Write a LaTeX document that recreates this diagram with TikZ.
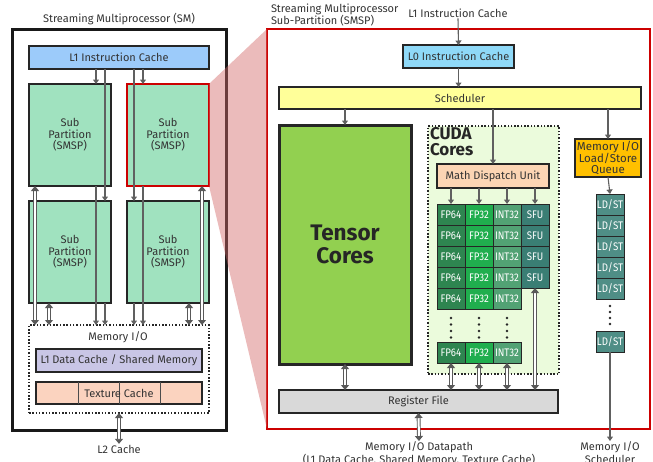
\documentclass[tikz,border=0pt]{standalone}
\usepackage{fontspec}
\setmainfont{Fira Sans}
\newfontfamily\cellfont[FakeStretch=0.88]{Fira Sans}
\usetikzlibrary{arrows.meta,calc}
\definecolor{cLone}{HTML}{9CCBFA}
\definecolor{cLzero}{HTML}{8FD9F8}
\definecolor{cSP}{HTML}{A0E2BF}
\definecolor{cLD}{HTML}{C9C6E6}
\definecolor{cTex}{HTML}{FBD3BF}
\definecolor{cSched}{HTML}{FFFF99}
\definecolor{cTensor}{HTML}{92D050}
\definecolor{cCuda}{HTML}{EBFBDC}
\definecolor{cMDU}{HTML}{FCD5B4}
\definecolor{cFPsf}{HTML}{2E8550}
\definecolor{cFPtt}{HTML}{20AE4E}
\definecolor{cINT}{HTML}{52A274}
\definecolor{cSFU}{HTML}{3A7E74}
\definecolor{cRF}{HTML}{D9D9D9}
\definecolor{cMemQ}{HTML}{FFC000}
\definecolor{cLDST}{HTML}{4F8E86}
\definecolor{cRed}{HTML}{CC0000}
\definecolor{cPink}{HTML}{D36868}
\definecolor{cTxt}{HTML}{333333}
\definecolor{cArr}{HTML}{606060}
\begin{document}
\begin{tikzpicture}[x=1pt,y=-1pt,
  bx/.style={draw=black!85, line width=1.2pt, inner sep=0pt, outer sep=0pt, anchor=north west,
    font=\fontsize{11}{11.5}\selectfont, text=cTxt, align=center},
  sz/.style 2 args={minimum width=#1pt, minimum height=#2pt},
  lbl/.style={inner sep=1pt, outer sep=0pt, font=\fontsize{11}{12.5}\selectfont, text=cTxt, align=center},
  cell/.style={draw=black!85, line width=1pt, inner sep=0pt, outer sep=0pt, anchor=north west,
    minimum width=28pt, minimum height=21pt, text=white, font=\cellfont\fontsize{11}{11}\selectfont},
  arr/.style={draw=cArr, line width=1.1pt, -{Triangle[length=4.5pt,width=6pt]}},
  darr/.style={draw=black!65, line width=0.9pt, double=white, double distance=2pt,
    {Triangle[length=5pt,width=8pt]}-{Triangle[length=5pt,width=8pt]}},
  dotbox/.style={draw=black!85, line width=1.1pt, dash pattern=on 1.5pt off 1.8pt, inner sep=0pt, outer sep=0pt, anchor=north west}
]
\useasboundingbox (0,0) rectangle (653,461);

% ---------------- SM -----------------
\node[lbl] (smtitle) at (119,19) {Streaming Multiprocessor (SM)};
\node[bx, draw=black!90, line width=3pt, sz={214}{401}] (sm) at (12,29) {};
\node[bx, fill=cLone, sz={180}{23}] (l1ic) at (29,46) {L1 Instruction Cache};
\node[bx, fill=cSP, sz={82}{102}] (sp1) at (29,84) {Sub\\Partition\\(SMSP)};
\node[bx, fill=cSP, draw=cRed, sz={82}{102}] (sp2) at (127,84) {Sub\\Partition\\(SMSP)};
\node[bx, fill=cSP, sz={82}{102}] (sp3) at (29,201) {Sub\\Partition\\(SMSP)};
\node[bx, fill=cSP, sz={82}{102}] (sp4) at (127,201) {Sub\\Partition\\(SMSP)};
\node[dotbox, sz={180}{88}] (memio) at (29,325) {};
\node[lbl] (memlbl) at (118,337) {Memory I/O};
\node[bx, fill=cLD, sz={166}{23}] (l1d) at (36,349) {L1 Data Cache / Shared Memory};
\node[bx, fill=cTex, sz={166}{22}] (tex) at (36,382) {};
\foreach \dx in {42,83,124}
  \draw[black!70, line width=0.8pt] ($(tex.north west)+(\dx,0)$) -- ($(tex.south west)+(\dx,0)$);
\node[lbl] (texlbl) at (tex.center) {Texture Cache};
\node[lbl] (l2) at (119,449) {L2 Cache};

% SM connectors
\draw[arr] (l1ic.south -| 96,0) -- (sp1.north -| 96,0);
\draw[arr] (l1ic.south -| 143,0) -- (sp2.north -| 143,0);
\draw[arr] (l1ic.south -| 105,0) -- (sp3.north -| 105,0);
\draw[arr] (l1ic.south -| 134,0) -- (sp4.north -| 134,0);
\draw[arr] (sp1.south -| 96,0) -- (memio.north -| 96,0);
\draw[arr] (sp2.south -| 143,0) -- (memio.north -| 143,0);
\draw[arr] (sp3.south -| 105,0) -- (memio.north -| 105,0);
\draw[arr] (sp4.south -| 134,0) -- (memio.north -| 134,0);
\draw[darr] (sp1.south -| 35,0) -- (memio.north -| 35,0);
\draw[darr] (sp3.south -| 49,0) -- (memio.north -| 49,0);
\draw[darr] (sp2.south -| 202,0) -- (memio.north -| 202,0);
\draw[darr] (sp4.south -| 189,0) -- (memio.north -| 189,0);
\draw[darr] (memio.south) -- (l2.north);

% ---------------- SMSP -----------------
\node[bx, draw=cRed, line width=1.5pt, sz={383}{400}] (smsp) at (267,29) {};
\fill[cPink, opacity=0.45] (sp2.north east) -- (smsp.north west) -- (smsp.south west) -- (sp2.south east) -- cycle;
\node[lbl, anchor=west, align=left, font=\fontsize{11}{11}\selectfont] (smsptitle) at (270,15) {Streaming Multiprocessor\\Sub-Partition (SMSP)};
\node[lbl] (l1lbl) at (458,13) {L1 Instruction Cache};
\node[bx, fill=cLzero, sz={111}{23}] (l0) at (403,45) {L0 Instruction Cache};
\node[bx, fill=cSched, sz={362}{22}] (sched) at (279,87) {Scheduler};
\node[bx, fill=cTensor, line width=3pt, sz={132}{239}, font=\fontsize{22.5}{23}\bfseries\selectfont, text=black!85] (tensor) at (279,125) {Tensor\\Cores};
\node[dotbox, fill=cCuda, sz={131}{248}] (cuda) at (428,126) {};
\node[lbl, anchor=north west, align=left, inner sep=0pt, font=\fontsize{17}{16.5}\bfseries\selectfont, text=black!85] (cudalbl) at (430,127) {CUDA\\Cores};
\node[bx, fill=cMDU, sz={112}{24}] (mdu) at (437,164) {Math Dispatch Unit};
\foreach \r in {0,...,4} {
  \node[cell, fill=cFPsf] (fpa\r) at (437,204+21*\r) {FP64};
  \node[cell, fill=cFPtt] (fpb\r) at (465,204+21*\r) {FP32};
  \node[cell, fill=cINT] (int\r) at (493,204+21*\r) {INT32};
}
\foreach \r in {0,...,3}
  \node[cell, fill=cSFU] (sfu\r) at (521,204+21*\r) {SFU};
\node[cell, fill=cFPsf] (fpaL) at (437,342) {FP64};
\node[cell, fill=cFPtt] (fpbL) at (465,342) {FP32};
\node[cell, fill=cINT] (intL) at (493,342) {INT32};
\foreach \x in {451,479,507}
  \foreach \y in {318,324.5,331,337.5}
    \fill[black!85] (\x,\y) circle (1.3pt);
\node[bx, fill=cRF, sz={279}{23}] (rf) at (279,390) {Register File};
\node[lbl, anchor=north] (dplbl) at (419,441) {Memory I/O Datapath\\(L1 Data Cache, Shared Memory, Texture Cache)};
\node[bx, fill=cMemQ, sz={66}{38}, font=\fontsize{11.5}{11}\selectfont] (memq) at (575,139) {Memory I/O\\Load/Store\\Queue};
\foreach \r in {0,...,4}
  \node[cell, fill=cLDST] (ldst\r) at (596,194+21*\r) {LD/ST};
\node[cell, fill=cLDST] (ldstL) at (596,331) {LD/ST};
\foreach \y in {306,312,318,324}
  \fill[black!85] (610,\y) circle (1.3pt);
\node[lbl, anchor=north] (msched) at (610,441) {Memory I/O\\Scheduler};

% SMSP connectors
\draw[arr] (l1lbl.south) -- (l0.north);
\draw[arr] (l0.south) -- (sched.north -| l0.south) ;
\draw[arr] (sched.south -| tensor.north) -- (tensor.north);
\draw[arr] (sched.south -| mdu.north) -- (mdu.north);
\draw[arr] (sched.south -| memq.north) -- (memq.north);
\draw[arr] (mdu.south -| fpa0.north) -- (fpa0.north);
\draw[arr] (mdu.south -| fpb0.north) -- (fpb0.north);
\draw[arr] (mdu.south -| int0.north) -- (int0.north);
\draw[arr] (mdu.south -| sfu0.north) -- (sfu0.north);
\draw[arr] (memq.south) -- (ldst0.north);
\draw[arr] (ldstL.south) -- (msched.north);
\draw[darr] (tensor.south) -- (rf.north -| tensor.south);
\draw[darr] (fpaL.south) -- (rf.north -| fpaL.south);
\draw[darr] (fpbL.south) -- (rf.north -| fpbL.south);
\draw[darr] (intL.south) -- (rf.north -| intL.south);
\draw[darr] (sfu3.south) -- (rf.north -| sfu3.south);
\draw[darr] (rf.south) -- (dplbl.north);
\end{tikzpicture}
\end{document}
